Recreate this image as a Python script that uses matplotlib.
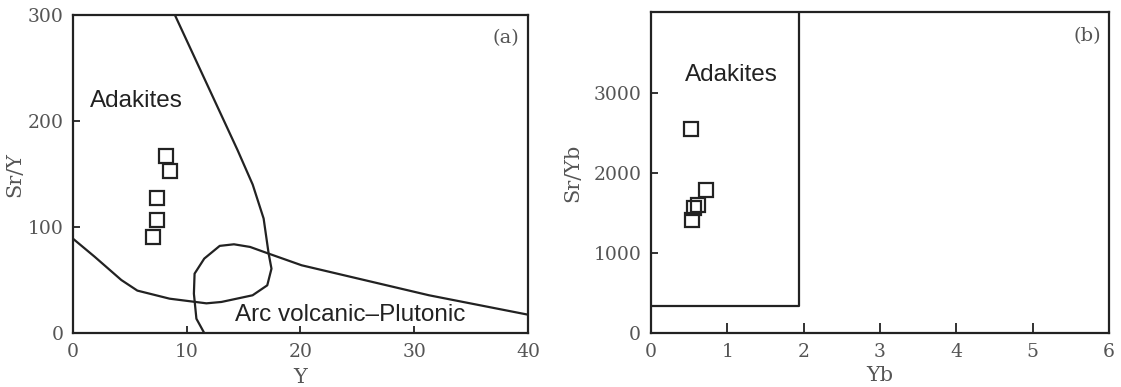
import numpy as np
import matplotlib.pyplot as plt

# (a) Sr/Y vs Y
y_pts = [8.2, 8.5, 7.4, 7.4, 7.0]
sry_pts = [167, 153, 127, 107, 91]

# adakite field boundary
adak_x = [0, 1.9, 4.25, 5.66, 8.49, 11.73, 13.05, 15.79, 17.08, 17.45, 17.2, 16.76, 15.8, 14.47, 8.96]
adak_y = [89, 72, 50, 40, 32.4, 28.0, 29.3, 35.6, 45.0, 60.7, 75, 108, 140, 172.5, 300]

# arc field boundary
arc_x = [40, 31.3, 20.1, 17.2, 15.57, 14.15, 12.9, 11.54, 10.69, 10.63, 10.85, 11.54]
arc_y = [17.3, 35.6, 63.9, 74.9, 81.2, 83.7, 82.2, 70.2, 56.0, 37.1, 13.5, 0]

# (b) Sr/Yb vs Yb
yb_pts = [0.52, 0.72, 0.61, 0.56, 0.54]
sryb_pts = [2540, 1785, 1600, 1560, 1405]

box_x = [0, 1.94, 1.94]
box_y = [340, 340, 4000]

serif = 'DejaVu Serif'
sans = 'Liberation Sans'
dark = '#222222'
tickc = '#555555'

fig = plt.figure(figsize=(11.21, 3.87), dpi=100)
ax1 = fig.add_axes([0.0651, 0.1395, 0.4059, 0.8217])
ax2 = fig.add_axes([0.5807, 0.1395, 0.4086, 0.8284])

for ax in (ax1, ax2):
    for s in ax.spines.values():
        s.set_linewidth(1.6)
        s.set_color(dark)
    ax.tick_params(direction='in', length=5, width=1.3, color=dark,
                   labelsize=13.5, labelcolor=tickc, pad=7)

# panel a
ax1.plot(adak_x, adak_y, color=dark, lw=1.6)
ax1.plot(arc_x, arc_y, color=dark, lw=1.6)
ax1.plot(y_pts, sry_pts, 's', ms=10, mfc='none', mec=dark, mew=1.6)
ax1.set_xlim(0, 40)
ax1.set_ylim(0, 300)
ax1.set_xticks([0, 10, 20, 30, 40])
ax1.set_yticks([0, 100, 200, 300])
ax1.set_xlabel('Y', fontsize=15, family=serif, color=tickc, labelpad=5)
ax1.set_ylabel('Sr/Y', fontsize=15, family=serif, color=tickc, labelpad=2)
ax1.text(1.5, 219, 'Adakites', fontsize=17.5, family=sans, color=dark, va='center')
ax1.text(14.2, 17, 'Arc volcanic\u2013Plutonic', fontsize=17.5, family=sans, color=dark, va='center')
ax1.text(39.2, 278, '(a)', fontsize=14, family=serif, color=tickc, ha='right', va='center')

# panel b
ax2.plot(box_x, box_y, color=dark, lw=1.6)
ax2.plot(yb_pts, sryb_pts, 's', ms=10, mfc='none', mec=dark, mew=1.6)
ax2.set_xlim(0, 6)
ax2.set_ylim(0, 4000)
ax2.set_xticks([0, 1, 2, 3, 4, 5, 6])
ax2.set_yticks([0, 1000, 2000, 3000])
ax2.tick_params(axis='x', length=7)
ax2.set_xlabel('Yb', fontsize=15, family=serif, color=tickc, labelpad=4)
ax2.set_ylabel('Sr/Yb', fontsize=15, family=serif, color=tickc, labelpad=8)
ax2.text(0.45, 3215, 'Adakites', fontsize=17.5, family=sans, color=dark, va='center')
ax2.text(5.9, 3700, '(b)', fontsize=14, family=serif, color=tickc, ha='right', va='center')

for ax in (ax1, ax2):
    for lab in ax.get_xticklabels() + ax.get_yticklabels():
        lab.set_family(serif)

fig.savefig('out.png', dpi=100)
